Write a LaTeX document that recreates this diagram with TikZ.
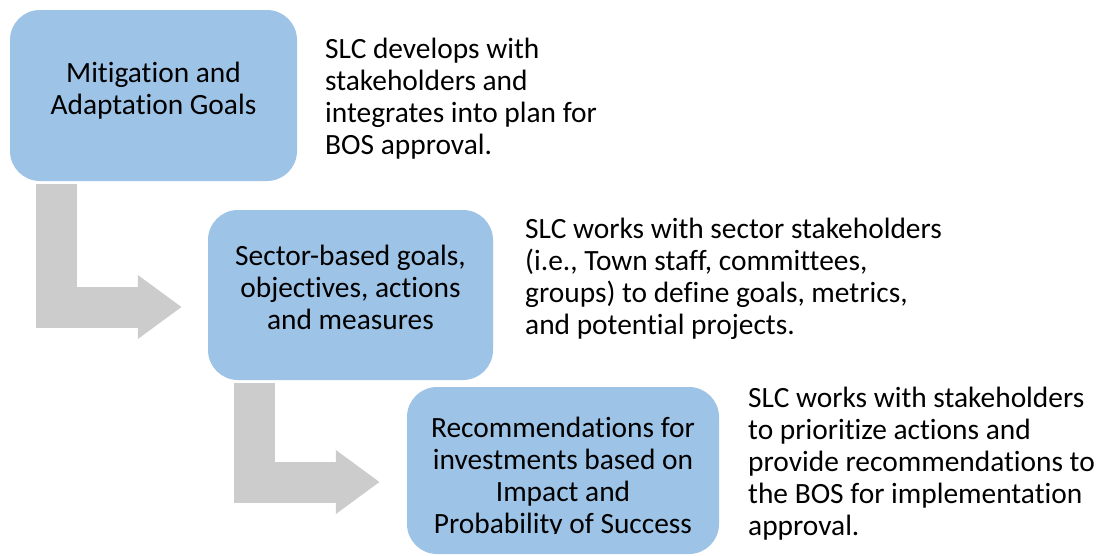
\documentclass[tikz,border=0pt]{standalone}
\usepackage{fontspec}
\setmainfont{Carlito}[Ligatures=NoCommon]
\usepackage{xcolor}
\usetikzlibrary{arrows.meta,positioning}
\definecolor{boxblue}{HTML}{9DC3E6}
\definecolor{arrowgray}{HTML}{CCCCCC}

\begin{document}
\begin{tikzpicture}[x=1pt,y=-1pt,
    every node/.style={font=\fontsize{29.4}{32}\selectfont},
    stage/.style={fill=boxblue, rounded corners=30pt, inner sep=0pt},
    stagetext/.style={align=center, inner sep=0pt},
    note/.style={anchor=base west, align=left, inner sep=0pt},
    elbowarrow/.style={arrowgray, line width=41pt, -{Triangle[length=44pt,width=61pt]}}]
    % Drei Stufen von oben links nach unten rechts
    \useasboundingbox (0,0) rectangle (1099,555);
    \node[stage, minimum width=287pt, minimum height=171pt] (goals) at (153.5,95.5) {};
    \node[stagetext] (goalstext) at ([yshift=5pt]goals.center) {Mitigation and\\Adaptation Goals};
    \node[stage, minimum width=285pt, minimum height=170pt] (sector) at (350.5,295) {};
    \node[stagetext] (sectortext) at ([yshift=8pt]sector.center) {Sector-based goals,\\objectives, actions\\and measures};
    \node[stage, minimum width=312pt, minimum height=167pt] (invest) at (563,470.5) {};
    \begin{scope}
        \clip (invest.north west) rectangle ([yshift=21pt]invest.south east);
        \node[stagetext] (investtext) at ([yshift=-7pt]invest.center) {Recommendations for\\investments based on\\Impact and\\Probability of Success};
    \end{scope}
    % Erlaeuterungen rechts daneben (base = letzte Zeile)
    \node[note] (goalsnote) at (325,154) {SLC develops with\\stakeholders and\\integrates into plan for\\BOS approval.};
    \node[note] (sectornote) at (525,334) {SLC works with sector stakeholders\\(i.e., Town staff, committees,\\groups) to define goals, metrics,\\and potential projects.};
    \node[note] (investnote) at (748,535) {SLC works with stakeholders\\to prioritize actions and\\provide recommendations to\\the BOS for implementation\\approval.};
    % Winkelpfeile
    \draw[elbowarrow] ([xshift=-97pt,yshift=-3pt]goals.south) |- ([xshift=-26pt,yshift=-12pt]sector.west);
    \draw[elbowarrow] ([xshift=-96pt,yshift=-3pt]sector.south) |- ([xshift=-27pt,yshift=-11.5pt]invest.west);
\end{tikzpicture}
\end{document}
